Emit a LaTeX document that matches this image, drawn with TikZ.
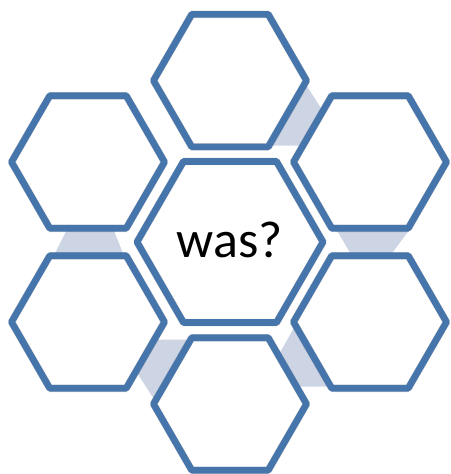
\documentclass[tikz,border=0pt]{standalone}
\usepackage{fontspec}
\setmainfont{Carlito}
\definecolor{hexblue}{RGB}{70,117,172}
\definecolor{connfill}{RGB}{205,213,229}
\tikzset{
  hexfill/.style={fill=white},
  hexshadow/.style={draw=black, opacity=0.16, line width=7.5pt, line join=round, xshift=1.4pt, yshift=-1.6pt},
  hexline/.style={draw=hexblue, line width=6.6pt, line join=round},
  connector/.style={fill=connfill, draw=none},
  label/.style={font=\fontsize{52}{60}\selectfont, text=black, inner sep=0pt}
}
\newcommand\myhex[3][]{\path[#1, shift={(#2)}] (0:#3) -- (60:#3) -- (120:#3) -- (180:#3) -- (240:#3) -- (300:#3) -- cycle;}
\begin{document}
\begin{tikzpicture}[x=1pt,y=-1pt]
\useasboundingbox (0,0) rectangle (450,474);
% hexagon centres
\coordinate (ct) at (230,242);
\coordinate (tp) at (230,80.6);
\coordinate (lt) at (88,162);
\coordinate (rt) at (370,162);
\coordinate (lb) at (88,322);
\coordinate (rb) at (370,322);
\coordinate (bt) at (230,404);
% connectors
\fill[connector] (302,78.5) -- (335,130) -- (335,145.5) -- (262,145.5) -- cycle;
\fill[connector] (67.2,229) -- (113.3,229) -- (124.1,256) -- (53.7,256) -- cycle;
\fill[connector] (336,229) -- (410,229) -- (390,256) -- (352,256) -- cycle;
\fill[connector] (150,339.5) -- (200,339.5) -- (190,385) -- (158,405.5) -- (125,354) -- cycle;
\fill[connector] (299.4,318) -- (340,330) -- (340,386.7) -- (275.9,386.7) -- (275.9,360) -- cycle;
% hexagons
\foreach \c/\r in {ct/93,tp/76.5,lt/76.5,rt/76.5,lb/76.5,rb/76.5,bt/76.5}{
  \myhex[hexfill]{\c}{\r}
  \myhex[hexshadow]{\c}{\r}
  \myhex[hexline]{\c}{\r}
}
\node[label, anchor=base] (was) at (229.5,257.5) {was?};
\end{tikzpicture}
\end{document}
